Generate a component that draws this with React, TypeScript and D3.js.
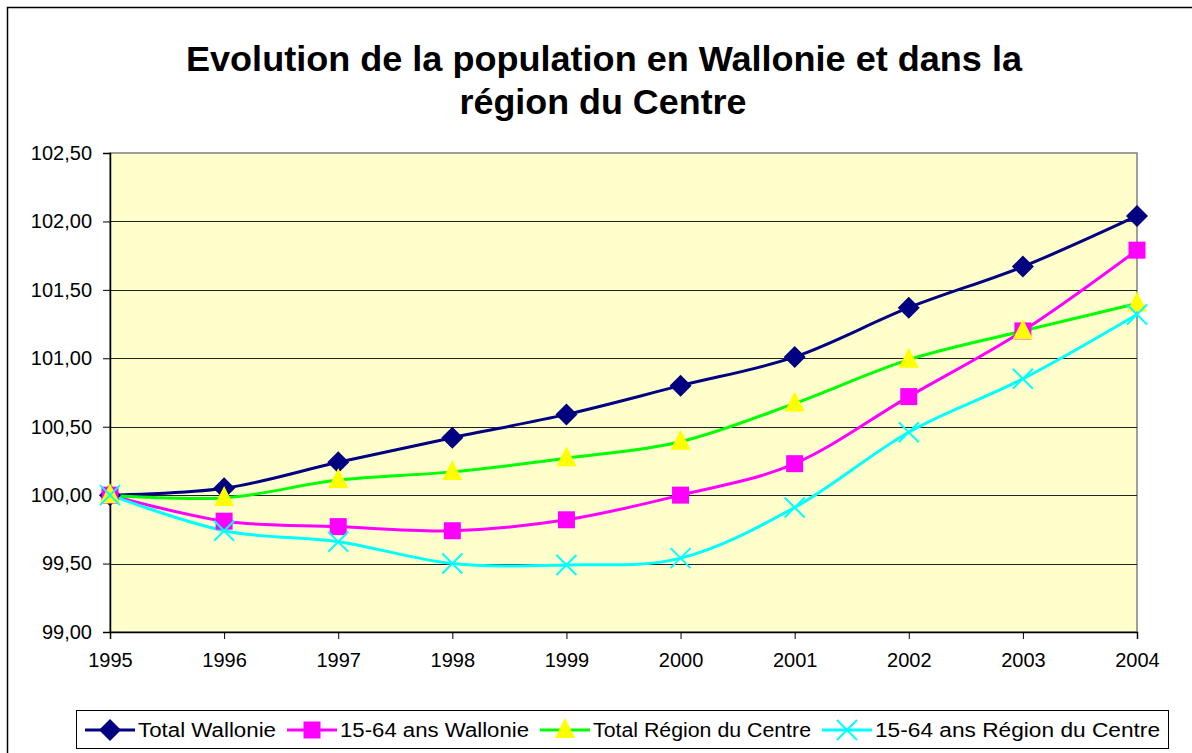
import React, { useEffect, useRef } from 'react';
import * as d3 from 'd3';

const years = [1995, 1996, 1997, 1998, 1999, 2000, 2001, 2002, 2003, 2004];
const totalWallonie = [100.0, 100.05, 100.24, 100.42, 100.59, 100.8, 101.01, 101.37, 101.67, 102.04];
const jeunesWallonie = [100.0, 99.81, 99.77, 99.74, 99.82, 100.0, 100.23, 100.72, 101.2, 101.79];
const totalCentre = [100.0, 99.98, 100.11, 100.17, 100.27, 100.39, 100.67, 100.99, 101.2, 101.4];
const jeunesCentre = [100.0, 99.74, 99.66, 99.5, 99.49, 99.54, 99.91, 100.46, 100.85, 101.32];
const yTicks = [99, 99.5, 100, 100.5, 101, 101.5, 102, 102.5];
const seriesNames = ['Total Wallonie', '15-64 ans Wallonie', 'Total Région du Centre', '15-64 ans Région du Centre'];

const App = () => {
  const svgRef = useRef();

  useEffect(() => {
    document.body.style.margin = '0';
    const svg = d3.select(svgRef.current);
    svg.selectAll('*').remove();

    const font = '"Liberation Sans", Arial, sans-serif';
    const left = 110, right = 1137, top = 153, bottom = 632;

    // outer chart frame
    svg.append('rect')
      .attr('x', 7.5).attr('y', 7.5)
      .attr('width', 1200).attr('height', 800)
      .attr('fill', 'white').attr('stroke', 'black').attr('stroke-width', 1.5);

    // title
    const title = svg.append('g').attr('font-family', font).attr('font-weight', 'bold')
      .attr('font-size', 35).attr('text-anchor', 'middle');
    title.append('text').attr('x', 604).attr('y', 71)
      .attr('textLength', 836).attr('lengthAdjust', 'spacingAndGlyphs')
      .text('Evolution de la population en Wallonie et dans la');
    title.append('text').attr('x', 603).attr('y', 114)
      .attr('textLength', 287).attr('lengthAdjust', 'spacingAndGlyphs')
      .text('région du Centre');

    const x = d3.scaleLinear().domain([years[0], years[years.length - 1]]).range([left, right]);
    const y = d3.scaleLinear().domain([99, 102.5]).range([bottom, top]);

    // plot area
    svg.append('rect')
      .attr('x', left).attr('y', top)
      .attr('width', right - left).attr('height', bottom - top)
      .attr('fill', '#FFFFCC').attr('stroke', '#808080').attr('stroke-width', 1.5);

    svg.append('g').selectAll('line')
      .data(yTicks.slice(1, -1))
      .join('line')
      .attr('x1', left).attr('x2', right)
      .attr('y1', d => Math.round(y(d)) + 0.5).attr('y2', d => Math.round(y(d)) + 0.5)
      .attr('stroke', '#222').attr('stroke-width', 1);

    // y axis
    const yAxis = svg.append('g')
      .attr('transform', `translate(${left},0)`)
      .call(d3.axisLeft(y).tickValues(yTicks).tickSize(7).tickPadding(11)
        .tickFormat(d => d3.format('.2f')(d).replace('.', ',')));
    yAxis.select('.domain').attr('stroke', 'black').attr('stroke-width', 1.5);
    yAxis.selectAll('text').attr('font-family', font).attr('font-size', 20).attr('fill', 'black');

    // x axis
    const xAxis = svg.append('g')
      .attr('transform', `translate(0,${bottom})`)
      .call(d3.axisBottom(x).tickValues(years).tickSize(7).tickPadding(14).tickFormat(d3.format('d')));
    xAxis.select('.domain').attr('stroke', 'black').attr('stroke-width', 1.5);
    xAxis.selectAll('text').attr('font-family', font).attr('font-size', 20).attr('fill', 'black');

    const line = d3.line()
      .x((d, i) => x(years[i]))
      .y(d => y(d))
      .curve(d3.curveCatmullRom.alpha(0));

    const diamond = (g, cx, cy) => g.append('path')
      .attr('d', `M${cx},${cy - 11}L${cx + 11},${cy}L${cx},${cy + 11}L${cx - 11},${cy}Z`)
      .attr('fill', '#000080');
    const square = (g, cx, cy) => g.append('rect')
      .attr('x', cx - 8.5).attr('y', cy - 8.5).attr('width', 17).attr('height', 17)
      .attr('fill', '#FF00FF');
    const triangle = (g, cx, cy) => g.append('path')
      .attr('d', `M${cx},${cy - 12}L${cx + 10},${cy + 8}L${cx - 10},${cy + 8}Z`)
      .attr('fill', '#FFFF00');
    const cross = (g, cx, cy) => g.append('path')
      .attr('d', `M${cx - 10},${cy - 10}L${cx + 10},${cy + 10}M${cx + 10},${cy - 10}L${cx - 10},${cy + 10}`)
      .attr('stroke', '#00FFFF').attr('stroke-width', 2).attr('fill', 'none');

    const series = [
      { values: totalWallonie, color: '#000080', marker: diamond },
      { values: jeunesWallonie, color: '#FF00FF', marker: square },
      { values: totalCentre, color: '#00FF00', marker: triangle },
      { values: jeunesCentre, color: '#00FFFF', marker: cross },
    ];

    series.forEach(s => {
      svg.append('path')
        .datum(s.values)
        .attr('d', line)
        .attr('fill', 'none')
        .attr('stroke', s.color)
        .attr('stroke-width', 3);
    });
    series.forEach(s => {
      const g = svg.append('g');
      s.values.forEach((v, i) => s.marker(g, x(years[i]), y(v)));
    });

    // legend
    const legend = svg.append('g');
    legend.append('rect')
      .attr('x', 76.5).attr('y', 710.5).attr('width', 1092).attr('height', 38)
      .attr('fill', 'white').attr('stroke', 'black').attr('stroke-width', 1);
    const itemX = [85, 287, 540, 822];
    const textLen = [138, 189, 218, 285];
    series.forEach((s, i) => {
      const lx = itemX[i];
      legend.append('line')
        .attr('x1', lx).attr('x2', lx + 50).attr('y1', 730).attr('y2', 730)
        .attr('stroke', s.color).attr('stroke-width', 3);
      s.marker(legend, lx + 25, 730);
      legend.append('text')
        .attr('x', lx + 53).attr('y', 737)
        .attr('font-family', font).attr('font-size', 20)
        .attr('textLength', textLen[i]).attr('lengthAdjust', 'spacingAndGlyphs')
        .text(seriesNames[i]);
    });
  }, []);

  return (
    <svg ref={svgRef} width={1192} height={753} style={{ display: 'block' }}></svg>
  );
};

export default App;
